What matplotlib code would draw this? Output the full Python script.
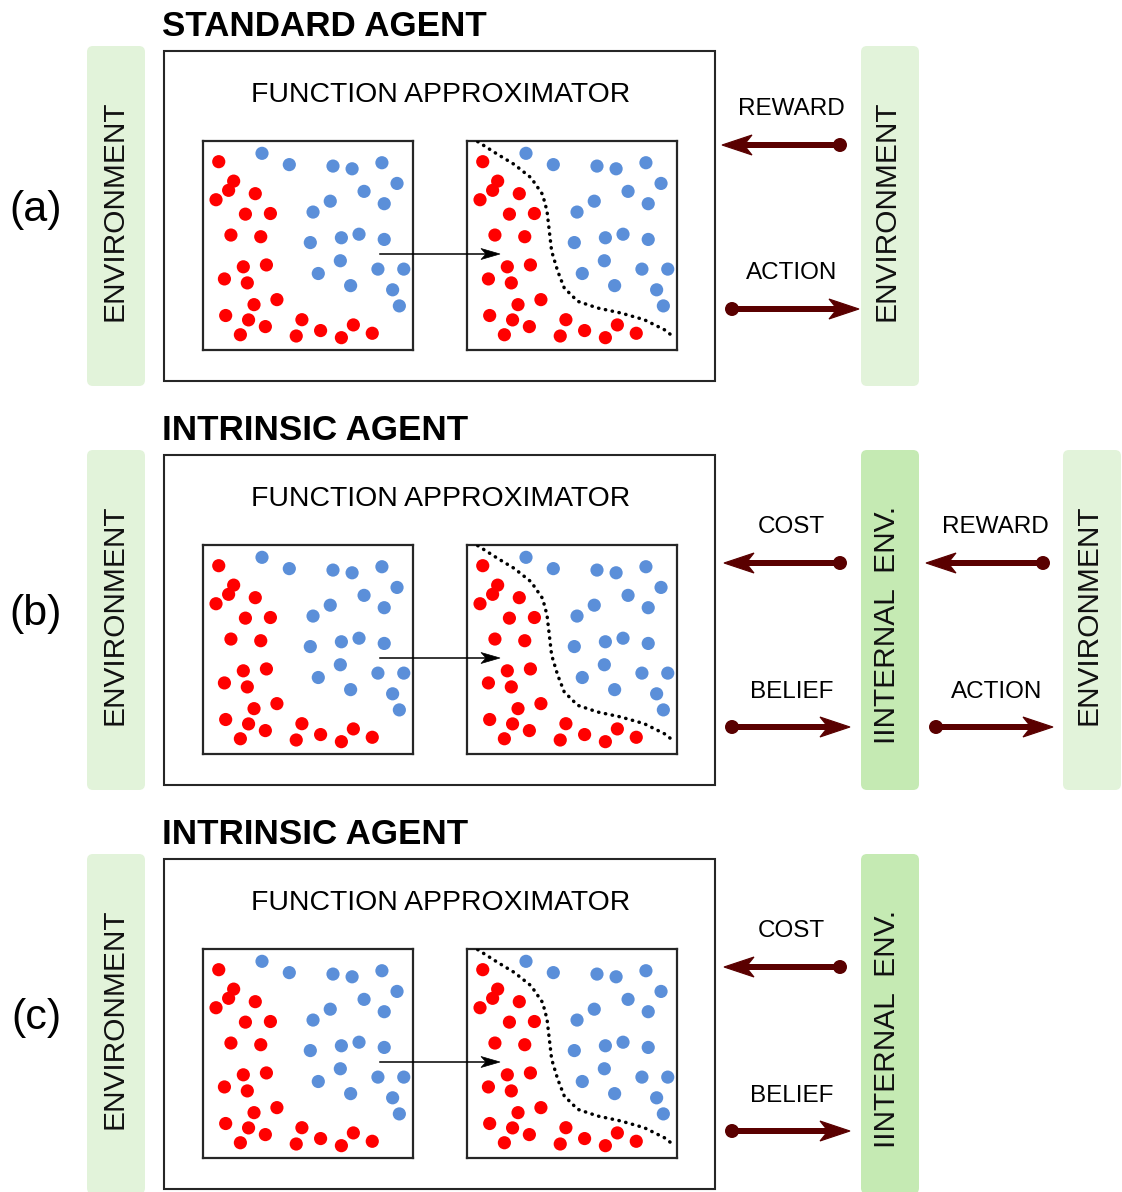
import matplotlib
matplotlib.use("Agg")
import matplotlib.pyplot as plt
from matplotlib.patches import FancyBboxPatch, Rectangle, Circle, Polygon

W, H = 1122, 1192
plt.rcParams['font.family'] = ['Liberation Sans', 'DejaVu Sans']

# ---------------- data ----------------
panel_labels = ['(a)', '(b)', '(c)']
panel_titles = ['STANDARD AGENT', 'INTRINSIC AGENT', 'INTRINSIC AGENT']
box_title = 'FUNCTION APPROXIMATOR'

# class samples (same cloud in every panel), coordinates in 0..100 box units
red_x = [7.5, 14.6, 12.2, 6.2, 24.9, 20.2, 32.1, 13.3, 27.5, 19.2, 30.2, 10.2, 21.1,
         35.2, 24.3, 10.8, 21.7, 29.7, 17.8, 47.1, 44.4, 56.0, 65.9, 71.6, 80.6]
red_y = [90.1, 80.8, 76.4, 71.9, 74.8, 65.0, 65.3, 55.0, 54.2, 39.8, 40.7, 34.0, 32.1,
         24.1, 21.7, 16.5, 14.4, 11.2, 7.3, 14.5, 6.7, 9.3, 5.9, 12.0, 8.0]
blue_x = [28.1, 41.1, 61.9, 71.0, 85.2, 92.4, 76.7, 60.6, 86.3, 52.4, 65.9, 74.3, 86.3,
          51.1, 65.4, 54.9, 83.3, 95.6, 70.3, 90.3, 93.5]
blue_y = [94.1, 88.7, 88.0, 86.7, 89.6, 79.7, 75.9, 71.2, 70.0, 66.0, 53.7, 55.4, 52.9,
          51.4, 42.7, 36.6, 38.7, 38.7, 30.8, 28.8, 21.1]
# learned decision boundary
boundary_x = [5.1, 14.6, 22.5, 30.5, 36.0, 38.1, 39.2, 40.3, 43.2, 46.3, 52.7, 62.2,
              73.3, 84.4, 94.0, 99.0]
boundary_y = [99.7, 93.6, 88.8, 82.4, 74.4, 66.5, 56.9, 47.3, 37.7, 29.7, 23.3, 20.1,
              17.7, 14.5, 9.7, 5.8]

# signals: (top label, bottom label) for agent side / outer side
agent_signals = [('REWARD', 'ACTION'), ('COST', 'BELIEF'), ('COST', 'BELIEF')]
outer_signals = [None, ('REWARD', 'ACTION'), None]
right_panel_names = ['ENVIRONMENT', 'IINTERNAL  ENV.', 'IINTERNAL  ENV.']

# ---------------- style ----------------
ENV_C = '#e2f3da'
INT_C = '#c5eab3'
ARR_C = '#5a0000'
RED = '#ff0000'
BLUE = '#5b8fd9'
EDGE = '#262626'

fig = plt.figure(figsize=(W / 100, H / 100), dpi=100)
ax = fig.add_axes([0, 0, 1, 1])
ax.set_xlim(0, W)
ax.set_ylim(H, 0)
ax.axis('off')


def env_panel(a, x0, x1, y0, y1, color):
    a.add_patch(FancyBboxPatch((x0, y0), x1 - x0, y1 - y0,
                               boxstyle='round,pad=0,rounding_size=6',
                               fc=color, ec='none', zorder=1))


def signal_arrow(a, xs, xt, y, lw_px=6, head_len=30, head_hw=10, notch=22,
                 color=ARR_C):
    d = 1 if xt > xs else -1
    a.plot([xs, xt - d * notch], [y, y], color=color, lw=lw_px * 0.72,
           solid_capstyle='butt', zorder=5)
    a.add_patch(Polygon([(xt, y), (xt - d * head_len, y - head_hw),
                         (xt - d * notch, y), (xt - d * head_len, y + head_hw)],
                        closed=True, fc=color, ec=color, lw=0.8, zorder=5))
    a.add_patch(Circle((xs, y), 7, fc=color, ec='none', zorder=6))


offsets = [0, 404, 808]
for i, oy in enumerate(offsets):
    # panel label
    ax.text(36, 210 + oy, panel_labels[i], fontsize=31, ha='center', va='center')
    # title
    ax.text(162, 26 + oy, panel_titles[i], fontsize=25.2, fontweight='bold',
            ha='left', va='center')
    # left environment
    env_panel(ax, 87, 145, 46 + oy, min(386 + oy, H + 10), ENV_C)
    ax.text(115, 211 + oy, 'ENVIRONMENT', rotation=90, fontsize=21.5,
            ha='center', va='center', color='#111')
    # agent box
    ax.add_patch(Rectangle((164, 51 + oy), 551, 330, fc='none', ec=EDGE, lw=1.5,
                           zorder=3))
    ax.text(441, 95 + oy, box_title, fontsize=20.4, ha='center', va='center')
    # right panel
    rc = ENV_C if i == 0 else INT_C
    env_panel(ax, 861, 919, 46 + oy, min(386 + oy, H + 10), rc)
    ax.text(887, 211 + oy + (0 if i == 0 else 10), right_panel_names[i], rotation=90,
            fontsize=21.5, ha='center', va='center', color='#111')
    # agent-side arrows
    top, bot = agent_signals[i]
    if i == 0:
        ax.text(791, 109 + oy, top, fontsize=17.5, ha='center', va='center')
        signal_arrow(ax, 840, 722, 145 + oy)
        ax.text(792, 273 + oy, bot, fontsize=17.5, ha='center', va='center')
        signal_arrow(ax, 732, 859, 309 + oy)
    else:
        ax.text(791, 123 + oy, top, fontsize=17.5, ha='center', va='center')
        signal_arrow(ax, 840, 724, 159 + oy)
        ax.text(792, 288 + oy, bot, fontsize=17.5, ha='center', va='center')
        signal_arrow(ax, 732, 850, 323 + oy)
    if outer_signals[i] is not None:
        t2, b2 = outer_signals[i]
        env_panel(ax, 1063, 1121, 46 + oy, 386 + oy, ENV_C)
        ax.text(1089, 211 + oy, 'ENVIRONMENT', rotation=90, fontsize=21.5,
                ha='center', va='center', color='#111')
        ax.text(995, 123 + oy, t2, fontsize=17.5, ha='center', va='center')
        signal_arrow(ax, 1043, 926, 159 + oy)
        ax.text(997, 288 + oy, b2, fontsize=17.5, ha='center', va='center')
        signal_arrow(ax, 936, 1053, 323 + oy)

    # scatter boxes
    for k, bx in enumerate([203, 467]):
        bw, bh = 210, 209
        by = 141 + oy
        sub = fig.add_axes([bx / W, 1 - (by + bh) / H, bw / W, bh / H])
        sub.set_xlim(0, 100)
        sub.set_ylim(0, 100)
        sub.set_xticks([])
        sub.set_yticks([])
        for s in sub.spines.values():
            s.set_linewidth(1.6)
            s.set_color(EDGE)
        sub.scatter(red_x, red_y, s=90, color=RED, edgecolors='none', zorder=3)
        sub.scatter(blue_x, blue_y, s=90, color=BLUE, edgecolors='none', zorder=3)
        if k == 1:
            sub.plot(boundary_x, boundary_y, color='black', lw=2.5,
                     linestyle=(0, (0.1, 1.9)), dash_capstyle='round', zorder=4)

# overlay for the inner transform arrow
ov = fig.add_axes([0, 0, 1, 1])
ov.set_xlim(0, W)
ov.set_ylim(H, 0)
ov.axis('off')
ov.patch.set_alpha(0)
for oy in offsets:
    y = 254 + oy
    ov.plot([380, 488], [y, y], color='black', lw=1.1)
    ov.add_patch(Polygon([(500, y), (481, y - 5.5), (486, y), (481, y + 5.5)],
                         closed=True, fc='black', ec='black', lw=0.5))

fig.savefig('out.png', dpi=100)
